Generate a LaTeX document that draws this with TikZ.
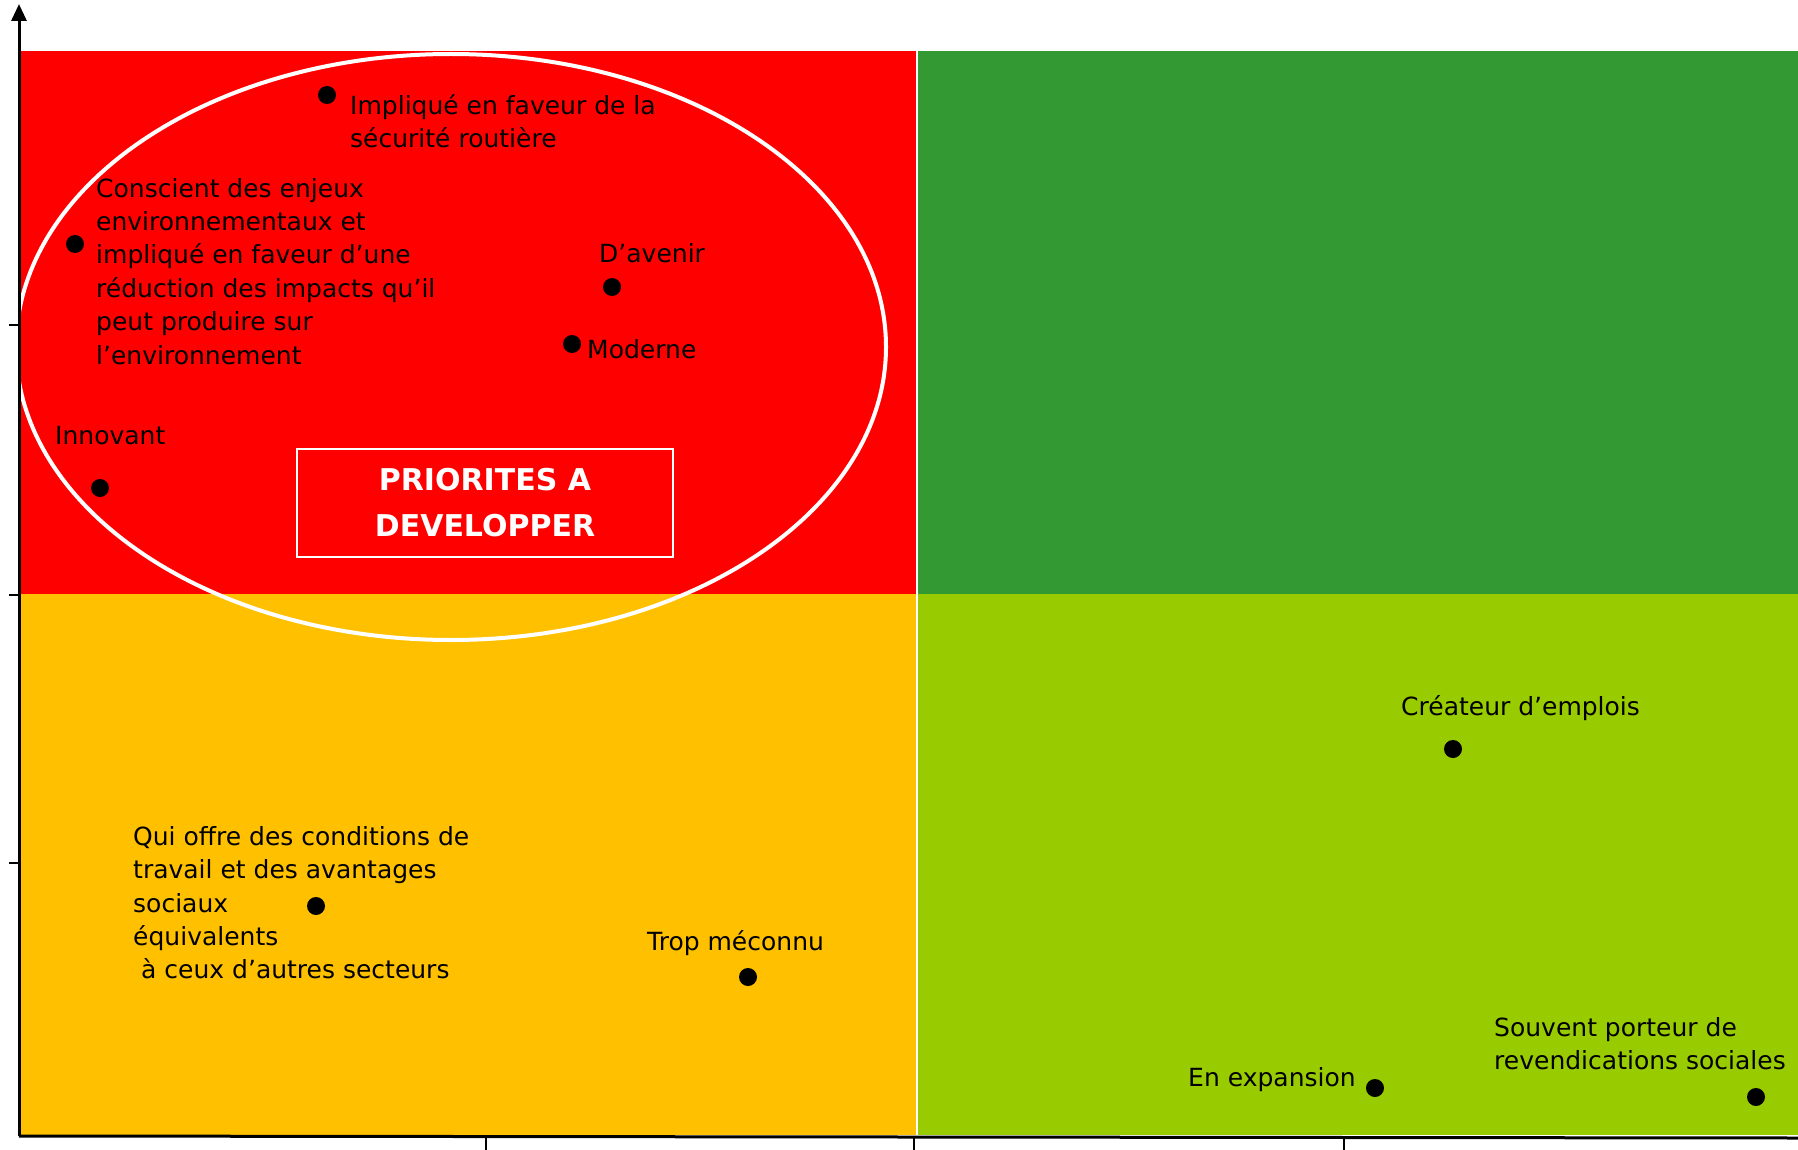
\documentclass[tikz,border=0pt]{standalone}
\usepackage{fontspec}
\setmainfont{DejaVu Sans}
\usetikzlibrary{arrows.meta,positioning}
\definecolor{quadred}{HTML}{FF0000}
\definecolor{quadgreen}{HTML}{339933}
\definecolor{quadorange}{HTML}{FFC000}
\definecolor{quadlime}{HTML}{99CC00}

\begin{document}
\begin{tikzpicture}[
x=1pt, y=-1pt,
    dot/.style = {circle, fill=black, inner sep=0pt,% points of the map
                  minimum size=18pt},
    lbl/.style = {inner sep=0pt, align=left, text=black,% labels of points
                  font=\fontsize{25}{33.4}\selectfont},
   prio/.style = {draw=white, line width=1.5pt, text=white, align=center,
                  minimum width=376pt, minimum height=108pt,
                  font=\fontsize{30}{46}\selectfont\bfseries},
                        ]
\useasboundingbox (0,0) rectangle (1798,1150);
% quadrants
\fill[quadred]    (21,51)   rectangle (917,594);
\fill[quadgreen]  (917,51)  rectangle (1798,594);
\fill[quadorange] (21,594)  rectangle (917,1135);
\fill[quadlime]   (917,594) rectangle (1798,1135);
\draw[white, line width=1.5pt] (917,51) -- (917,1135);
% priority zone
\draw[white, line width=4pt] (451,347) ellipse [x radius=435, y radius=293];
\node[prio] (box) at (485,503) {PRIORITES A\\DEVELOPPER};
% points and labels
\node[dot] (impl)    at (327,95)   {};
\node[dot] (consc)   at (75,244)   {};
\node[dot] (avenir)  at (612,287)  {};
\node[dot] (moderne) at (572,344)  {};
\node[dot] (innov)   at (100,488)  {};
\node[dot] (qui)     at (316,906)  {};
\node[dot] (trop)    at (748,977)  {};
\node[dot] (createur) at (1453,749) {};
\node[dot] (expan)   at (1375,1088) {};
\node[dot] (souvent) at (1756,1097) {};
\node[lbl, anchor=north west] (impl-t) at (350,94)
    {Impliqué en faveur de la\\sécurité routière};
\node[lbl, anchor=north west] (consc-t) at (96,178)
    {Conscient des enjeux\\environnementaux et\\impliqué en faveur d’une\\réduction des impacts qu’il\\peut produire sur\\l’environnement};
\node[lbl, anchor=base west] (avenir-t) at (599,263) {D’avenir};
\node[lbl, anchor=base west] (moderne-t) at (587,358) {Moderne};
\node[lbl, anchor=base west] (innov-t) at (55,444) {Innovant};
\node[lbl, anchor=north west] (qui-t) at (133,826)
    {Qui offre des conditions de\\travail et des avantages\\sociaux\\équivalents\\\hspace*{8pt}à ceux d’autres secteurs};
\node[lbl, anchor=base west] (trop-t) at (647,950) {Trop méconnu};
\node[lbl, anchor=base west] (createur-t) at (1401,715) {Créateur d’emplois};
\node[lbl, anchor=base west] (expan-t) at (1188,1086) {En expansion};
\node[lbl, anchor=north west] (souvent-t) at (1494,1017)
    {Souvent porteur de\\revendications sociales};
% axes
\coordinate (O) at (19,1136);
\coordinate (ytop) at (19,4);
\coordinate (xend) at (1798,1138);
\draw[line width=3pt, -{Triangle[width=15pt,length=17pt]}] (O) -- (ytop);
\draw[line width=3pt] (O) -- (xend);
\foreach \tx in {486,914,1344}
    \draw[line width=1.5pt] (\tx,1136) -- (\tx,1150);
\foreach \ty in {325,595,863}
    \draw[line width=1.5pt] (9,\ty) -- (19,\ty);
\end{tikzpicture}
\end{document}
